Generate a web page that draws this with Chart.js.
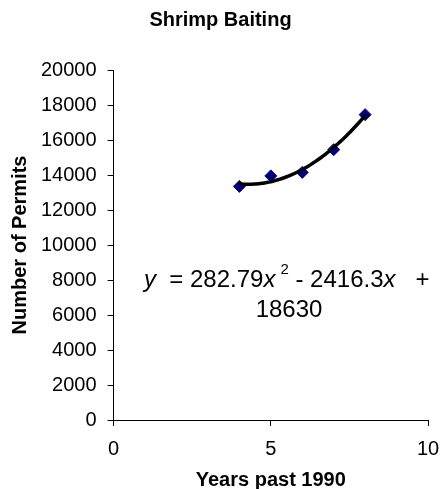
<!DOCTYPE html>
<html>
<head>
<meta charset="utf-8">
<script src="https://cdn.jsdelivr.net/npm/chart.js@4/dist/chart.umd.min.js"></script>
<style>
  html, body { margin: 0; padding: 0; background: #fff; }
  #wrap { width: 441px; height: 489px; }
</style>
</head>
<body>
<div id="wrap"><canvas id="chart" width="441" height="489"></canvas></div>
<script>
// data
const years = [4, 5, 6, 7, 8];
const permits = [13350, 13950, 14150, 15450, 17450];
const yTicks = [0, 2000, 4000, 6000, 8000, 10000, 12000, 14000, 16000, 18000, 20000];
const xTicks = [0, 5, 10];
// trend line as printed on the chart: y = a x^2 + b x + c
const trendCoef = [282.79, -2416.3, 18630];
const eqLine1 = ['y', '  = 282.79', 'x', '2', ' - 2416.3', 'x', '   +'];
const eqLine2 = '18630';

const FONT = '"Liberation Sans", Arial, sans-serif';

// polynomial trendline, drawn through the chart scales
const trendPlugin = {
  id: 'trend',
  afterDatasetsDraw(chart) {
    const xs = chart.scales.x, ys = chart.scales.y, ctx = chart.ctx;
    const x0 = years[0], x1 = years[years.length - 1];
    ctx.save();
    ctx.beginPath();
    for (let i = 0; i <= 60; i++) {
      const x = x0 + (x1 - x0) * i / 60;
      const y = trendCoef[0] * x * x + trendCoef[1] * x + trendCoef[2];
      const px = xs.getPixelForValue(x), py = ys.getPixelForValue(y);
      if (i === 0) ctx.moveTo(px, py); else ctx.lineTo(px, py);
    }
    ctx.strokeStyle = '#000';
    ctx.lineWidth = 3.5;
    ctx.lineCap = 'round';
    ctx.stroke();
    ctx.restore();
  }
};

// equation label
const eqPlugin = {
  id: 'equation',
  afterDraw(chart) {
    const ctx = chart.ctx;
    const size = 24;
    const normal = size + 'px ' + FONT, italic = 'italic ' + size + 'px ' + FONT, sup = '15px ' + FONT;
    const parts = eqLine1.map(t => ({
      t, font: (t === 'y' || t === 'x') ? italic : (t === '2' ? sup : normal), up: t === '2'
    }));
    ctx.save();
    ctx.fillStyle = '#000';
    ctx.textBaseline = 'middle';
    ctx.textAlign = 'left';
    const y1 = 280, y2 = 310;
    let x = 144;
    parts.forEach(p => {
      ctx.font = p.font;
      if (p.up) x += 5;
      ctx.fillText(p.t, x, p.up ? y1 - 10 : y1);
      x += ctx.measureText(p.t).width;
    });
    ctx.font = normal;
    ctx.textAlign = 'center';
    ctx.fillText(eqLine2, 289, y2);
    ctx.restore();
  }
};

new Chart(document.getElementById('chart'), {
  type: 'scatter',
  data: {
    datasets: [{
      label: 'Permits',
      data: years.map((x, i) => ({ x, y: permits[i] })),
      pointStyle: 'rectRot',
      pointRadius: 6,
      pointBackgroundColor: '#000080',
      pointBorderColor: '#000080',
      pointBorderWidth: 1,
      showLine: false
    }]
  },
  options: {
    responsive: false,
    animation: false,
    layout: { padding: { left: 0, right: 0, top: 0, bottom: 0 } },
    plugins: {
      legend: { display: false },
      tooltip: { enabled: false },
      title: {
        display: true,
        text: 'Shrimp Baiting',
        color: '#000',
        font: { family: FONT, size: 20, weight: 'bold', lineHeight: 1 },
        padding: { top: 10, bottom: 40 }
      }
    },
    scales: {
      x: {
        type: 'linear',
        min: 0, max: 10,
        afterBuildTicks: s => { s.ticks = xTicks.map(v => ({ value: v })); },
        afterFit: s => { s.paddingRight = 13; },
        grid: { drawOnChartArea: false, drawTicks: true, tickLength: 6, color: '#000' },
        border: { display: true, color: '#000', width: 1 },
        ticks: { color: '#000', font: { family: FONT, size: 20, lineHeight: 1 }, padding: 13, maxRotation: 0 },
        title: { display: true, text: 'Years past 1990', color: '#000', font: { family: FONT, size: 20, weight: 'bold', lineHeight: 0.85 }, padding: 0 }
      },
      y: {
        min: 0, max: 20000,
        afterBuildTicks: s => { s.ticks = yTicks.map(v => ({ value: v })); },
        grid: { drawOnChartArea: false, drawTicks: true, tickLength: 6, color: '#000' },
        border: { display: true, color: '#000', width: 1 },
        ticks: { color: '#000', font: { family: FONT, size: 20, lineHeight: 1 }, padding: 11, callback: v => String(v) },
        title: { display: true, text: 'Number of Permits', color: '#000', font: { family: FONT, size: 20, weight: 'bold', lineHeight: 1 }, padding: { top: 10, bottom: 0 } }
      }
    }
  },
  plugins: [trendPlugin, eqPlugin]
});
</script>
</body>
</html>
